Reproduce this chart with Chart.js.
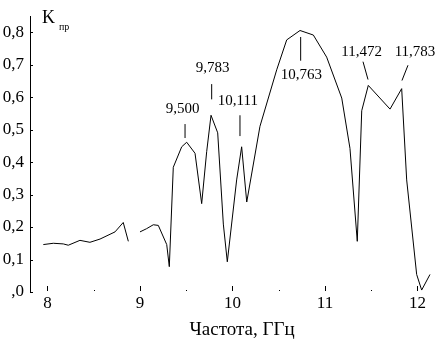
<!DOCTYPE html>
<html>
<head>
<meta charset="utf-8">
<script src="https://cdn.jsdelivr.net/npm/chart.js@4"></script>
<style>
  html, body { margin: 0; padding: 0; background: #fff; }
  canvas { display: block; }
</style>
</head>
<body>
<canvas id="chart" width="436" height="343"></canvas>
<script>
// частота, ГГц / коэффициент прохождения
const freq = [7.955, 8.063, 8.171, 8.225, 8.351, 8.459, 8.568, 8.730, 8.819, 8.874,
  8.94, 9.0, 9.072, 9.144, 9.198, 9.289, 9.317, 9.360, 9.451, 9.505,
  9.595, 9.667, 9.721, 9.768, 9.840, 9.901, 9.944, 10.045, 10.099, 10.154,
  10.297, 10.478, 10.586, 10.730, 10.874, 11.018, 11.181, 11.270, 11.349, 11.397,
  11.468, 11.703, 11.829, 11.883, 11.991, 12.045, 12.135];
const kpr = [0.146, 0.150, 0.148, 0.144, 0.159, 0.153, 0.163, 0.185, 0.214, 0.156,
  null, 0.185, 0.195, 0.207, 0.205, 0.146, 0.078, 0.384, 0.447, 0.461,
  0.427, 0.272, 0.432, 0.544, 0.490, 0.209, 0.093, 0.345, 0.447, 0.277,
  0.510, 0.684, 0.776, 0.805, 0.791, 0.723, 0.597, 0.442, 0.156, 0.558,
  0.636, 0.563, 0.626, 0.345, 0.054, 0.006, 0.054];

const peakLabels = ['9,500', '9,783', '10,111', '10,763', '11,472', '11,783'];
const xTitle = 'Частота, ГГц';
const yTitle = 'K';
const yTitleSub = 'пр';

const FONT = '"Liberation Serif", "Times New Roman", serif';

// где стоят подписи пиков (в единицах осей)
const noteLayout = [
  { tx: 9.46,   ty: 0.564, x1: 9.487,  y1: 0.517, x2: 9.487,  y2: 0.474 },
  { tx: 9.784,  ty: 0.689, x1: 9.775,  y1: 0.640, x2: 9.775,  y2: 0.593 },
  { tx: 10.058, ty: 0.587, x1: 10.081, y1: 0.544, x2: 10.081, y2: 0.480 },
  { tx: 10.746, ty: 0.669, x1: 10.737, y1: 0.785, x2: 10.737, y2: 0.712 },
  { tx: 11.395, ty: 0.738, x1: 11.411, y1: 0.709, x2: 11.465, y2: 0.654 },
  { tx: 11.973, ty: 0.738, x1: 11.897, y1: 0.698, x2: 11.832, y2: 0.651 },
];

const extras = {
  id: 'extras',
  afterDraw(chart) {
    const { ctx, scales: { x, y } } = chart;
    const x0 = x.getPixelForValue(x.min);
    const y0 = y.getPixelForValue(0);
    ctx.save();
    ctx.strokeStyle = '#000';
    ctx.lineWidth = 1;

    // засечки по Y (внутрь)
    y.ticks.forEach(t => {
      const py = Math.round(y.getPixelForValue(t.value)) + 0.5;
      ctx.beginPath();
      ctx.moveTo(x0, py);
      ctx.lineTo(x0 + 3, py);
      ctx.stroke();
    });

    // засечки по X
    x.ticks.forEach(t => {
      const px = Math.round(x.getPixelForValue(t.value)) + 0.5;
      const major = Number.isInteger(t.value);
      ctx.beginPath();
      ctx.moveTo(px, y0 - (major ? 6 : 2));
      ctx.lineTo(px, y0 - 1);
      ctx.stroke();
    });

    // подписи пиков
    ctx.fillStyle = '#000';
    ctx.font = '15px ' + FONT;
    ctx.textAlign = 'center';
    ctx.textBaseline = 'middle';
    noteLayout.forEach((n, i) => {
      ctx.fillText(peakLabels[i], x.getPixelForValue(n.tx), y.getPixelForValue(n.ty));
      ctx.beginPath();
      ctx.moveTo(x.getPixelForValue(n.x1), y.getPixelForValue(n.y1));
      ctx.lineTo(x.getPixelForValue(n.x2), y.getPixelForValue(n.y2));
      ctx.stroke();
    });

    // K пр
    ctx.textAlign = 'left';
    ctx.textBaseline = 'alphabetic';
    ctx.font = '18px ' + FONT;
    ctx.fillText(yTitle, 42, 23);
    ctx.font = '10px ' + FONT;
    ctx.fillText(yTitleSub, 59, 30);

    // подпись оси X
    ctx.textAlign = 'center';
    ctx.textBaseline = 'middle';
    ctx.font = '19px ' + FONT;
    ctx.fillText(xTitle, 242, 330);
    ctx.restore();
  }
};

new Chart(document.getElementById('chart'), {
  type: 'line',
  data: {
    datasets: [{
      data: freq.map((f, i) => ({ x: f, y: kpr[i] })),
      borderColor: '#000',
      borderWidth: 1,
      pointRadius: 0,
      tension: 0,
      spanGaps: false,
      fill: false,
    }],
  },
  options: {
    responsive: false,
    animation: false,
    devicePixelRatio: 1,
    layout: { padding: 0 },
    plugins: { legend: { display: false }, tooltip: { enabled: false } },
    scales: {
      x: {
        type: 'linear',
        min: 7.811,
        max: 12.2,
        afterFit: s => { s.height = 51; },
        border: { display: false },
        grid: { display: false, drawTicks: false },
        ticks: {
          stepSize: 0.5,
          includeBounds: false,
          autoSkip: false,
          maxRotation: 0,
          padding: 1,
          color: '#000',
          font: { family: FONT, size: 17 },
          callback: v => Number.isInteger(v) ? String(v) : '',
        },
      },
      y: {
        min: 0,
        max: 0.849,
        afterFit: s => { s.width = 30; },
        border: { display: true, color: '#000', width: 1 },
        grid: { display: false, drawTicks: false },
        ticks: {
          stepSize: 0.1,
          includeBounds: false,
          padding: 6,
          color: '#000',
          font: { family: FONT, size: 17 },
          callback: v => v === 0 ? ',0' : v.toFixed(1).replace('.', ','),
        },
      },
    },
  },
  plugins: [extras],
});
</script>
</body>
</html>
